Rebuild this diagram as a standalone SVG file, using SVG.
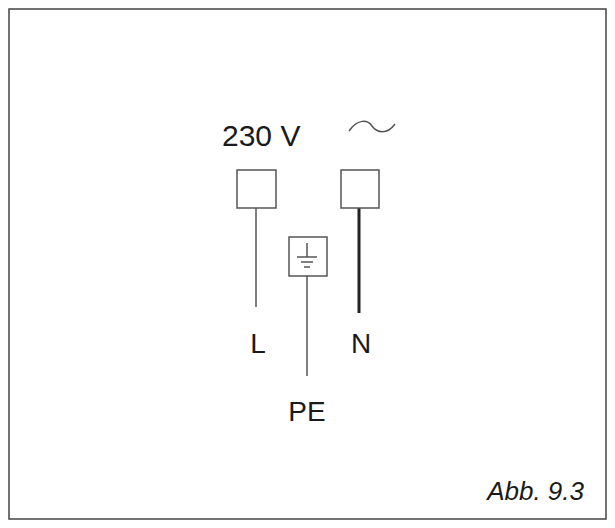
<svg xmlns="http://www.w3.org/2000/svg" width="615" height="528" viewBox="0 0 615 528">
<style>
text{font-family:"Liberation Sans",Arial,sans-serif;fill:#1a1a1a}
.b{fill:#fff;stroke:#555;stroke-width:1.5}
.w{stroke:#555;stroke-width:1.5;fill:none}
</style>
<rect width="615" height="528" fill="#fff"/>
<rect x="9" y="9" width="597" height="510" fill="none" stroke="#444" stroke-width="1.5"/>
<text x="222" y="146" font-size="30">230 V</text>
<path class="w" d="M349 131 C358 118 368 120 372 126 C377 133 387 135 395 124"/>
<g id="connectors">
<line class="w" x1="256" y1="208" x2="256" y2="307"/>
<line x1="359" y1="208" x2="359" y2="313" stroke="#222" stroke-width="3"/>
<line class="w" x1="307" y1="276" x2="307" y2="376"/>
</g>
<g id="L"><rect class="b" x="237" y="170" width="39" height="38"/><text x="258" y="353" font-size="28" text-anchor="middle">L</text></g>
<g id="N"><rect class="b" x="341" y="170" width="38" height="38"/><text x="361" y="353" font-size="28" text-anchor="middle">N</text></g>
<g id="PE"><rect class="b" x="289" y="237" width="38" height="39"/>
<path class="w" d="M307 243V257M297 257H317M301 262H313M304 267H310"/>
<text x="307" y="421" font-size="28" text-anchor="middle">PE</text></g>
<text x="584" y="500" font-size="26" font-style="italic" text-anchor="end">Abb. 9.3</text>
</svg>
